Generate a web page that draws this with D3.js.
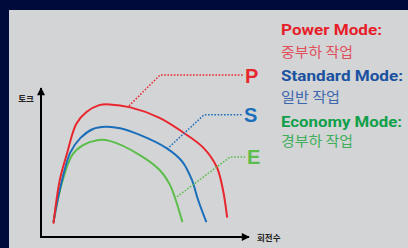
<!DOCTYPE html>
<html>
<head>
<meta charset="utf-8">
<script src="https://cdn.jsdelivr.net/npm/d3@7"></script>
<style>
  body { margin: 0; background: #000b3b; }
  svg { display: block; }
</style>
</head>
<body>
<div id="chart"></div>
<script>
// torque curves, rpm on x (0-100), torque on y (0-100)
const powerRpm = [6, 9, 12.5, 17, 22, 28, 33, 43, 57, 68, 78, 84.5, 87.5, 89.5]
const powerTorque = [9, 38, 56, 76, 84, 88.5, 89, 87, 80, 70.5, 60, 47, 31.5, 13]
const standardRpm = [6, 9, 14, 19, 25, 31, 38, 47.5, 60.5, 68, 72.5, 75.5, 79.5]
const standardTorque = [10, 31.5, 56.5, 66.5, 72.5, 74, 73, 68.5, 59.5, 50.5, 38.5, 25, 10]
const economyRpm = [6, 10, 15, 20, 27, 33, 47.5, 57, 62, 64.5, 68]
const economyTorque = [10, 36, 55, 61.5, 65, 64.5, 55, 45, 35, 26, 10]

const modes = ['P', 'S', 'E']
const modeTitles = ['Power Mode:', 'Standard Mode:', 'Economy Mode:']
const modeTasks = ['중부하 작업', '일반 작업', '경부하 작업']
// leader lines: point on curve -> elbow -> end (data units)
const leaderRpm = [[42.3, 57.2, 97.1], [60.6, 78.4, 96.6], [65.4, 90.9, 98.1]]
const leaderTorque = [[88, 108.7, 108.7], [59, 82, 82], [27, 53.7, 53.7]]

const axisLabels = ['토크', '회전수']

const lineColors = ['#e8262d', '#1b6fba', '#5bbd4a']
const titleColors = ['#e61e2a', '#1a52a0', '#10a04a']
const taskColors = ['#e0505a', '#3d68ad', '#3fae5a']

const width = 408
const height = 248

const svg = d3.select('#chart')
  .append('svg')
  .attr('width', width)
  .attr('height', height)

svg.append('rect')
  .attr('width', width).attr('height', height)
  .attr('fill', '#000b3b')

svg.append('rect')
  .attr('x', 9).attr('y', 10)
  .attr('width', width - 9).attr('height', height - 10)
  .attr('fill', '#d3d4d6')

const x = d3.scaleLinear().domain([0, 100]).range([41, 249])
const y = d3.scaleLinear().domain([0, 100]).range([237, 88])

const defs = svg.append('defs')
defs.append('marker')
  .attr('id', 'arrow')
  .attr('viewBox', '0 0 10 10')
  .attr('refX', 9).attr('refY', 5)
  .attr('markerWidth', 4.5).attr('markerHeight', 4)
  .attr('markerUnits', 'strokeWidth')
  .attr('orient', 'auto')
  .append('path')
  .attr('d', 'M0,0 L10,5 L0,10 Z')
  .attr('fill', '#000')

// axes
svg.append('line')
  .attr('x1', x(0)).attr('y1', y(0))
  .attr('x2', x(0)).attr('y2', y(100))
  .attr('stroke', '#000').attr('stroke-width', 2)
  .attr('marker-end', 'url(#arrow)')
svg.append('line')
  .attr('x1', x(0) - 1).attr('y1', y(0))
  .attr('x2', x(100)).attr('y2', y(0))
  .attr('stroke', '#000').attr('stroke-width', 2)
  .attr('marker-end', 'url(#arrow)')

svg.append('text')
  .text(axisLabels[0])
  .attr('x', 26).attr('y', 102)
  .attr('text-anchor', 'middle')
  .attr('font-family', 'Noto Sans CJK KR')
  .attr('font-size', 8.5)
  .attr('font-weight', 'bold')
  .attr('fill', '#222')

svg.append('text')
  .text(axisLabels[1])
  .attr('x', 257).attr('y', 240.5)
  .attr('font-family', 'Noto Sans CJK KR')
  .attr('font-size', 8.5)
  .attr('font-weight', 'bold')
  .attr('fill', '#222')

const curves = [
  d3.zip(powerRpm, powerTorque),
  d3.zip(standardRpm, standardTorque),
  d3.zip(economyRpm, economyTorque)
]

const line = d3.line()
  .x(d => x(d[0]))
  .y(d => y(d[1]))
  .curve(d3.curveCatmullRom.alpha(0.5))

// draw economy first so red sits on top
svg.selectAll('path.curve')
  .data(curves.map((c, i) => ({ c, i })).reverse())
  .enter()
  .append('path')
  .attr('class', 'curve')
  .attr('d', d => line(d.c))
  .attr('fill', 'none')
  .attr('stroke', d => lineColors[d.i])
  .attr('stroke-width', 2)

const leaderLine = d3.line().x(d => x(d[0])).y(d => y(d[1]))

svg.selectAll('path.leader')
  .data(modes)
  .enter()
  .append('path')
  .attr('class', 'leader')
  .attr('d', (d, i) => leaderLine(d3.zip(leaderRpm[i], leaderTorque[i])))
  .attr('fill', 'none')
  .attr('stroke', (d, i) => lineColors[i])
  .attr('stroke-width', 1.5)
  .attr('stroke-dasharray', '1.6,1.6')

svg.selectAll('text.mode')
  .data(modes)
  .enter()
  .append('text')
  .attr('class', 'mode')
  .text(d => d)
  .attr('x', (d, i) => x(leaderRpm[i][2]) + 2)
  .attr('y', (d, i) => y(leaderTorque[i][2]) + 7.5)
  .attr('font-family', 'Liberation Sans, Arial, sans-serif')
  .attr('font-weight', 'bold')
  .attr('font-size', 20)
  .attr('fill', (d, i) => lineColors[i])

// legend
const titleY = [35, 81, 127]
const taskY = [57, 102, 146]
const titleW = [101, 122, 121]
const taskW = [72, 59, 72]

svg.selectAll('text.title')
  .data(modeTitles)
  .enter()
  .append('text')
  .attr('class', 'title')
  .text(d => d)
  .attr('x', 281)
  .attr('y', (d, i) => titleY[i])
  .attr('font-family', 'Roboto, sans-serif')
  .attr('font-weight', 'bold')
  .attr('font-size', 15.5)
  .attr('textLength', (d, i) => titleW[i])
  .attr('lengthAdjust', 'spacingAndGlyphs')
  .attr('fill', (d, i) => titleColors[i])

svg.selectAll('text.task')
  .data(modeTasks)
  .enter()
  .append('text')
  .attr('class', 'task')
  .text(d => d)
  .attr('x', 281)
  .attr('y', (d, i) => taskY[i])
  .attr('font-family', 'Noto Sans CJK KR')
  .attr('font-size', 14)
  .attr('textLength', (d, i) => taskW[i])
  .attr('lengthAdjust', 'spacingAndGlyphs')
  .attr('fill', (d, i) => taskColors[i])
</script>
</body>
</html>
